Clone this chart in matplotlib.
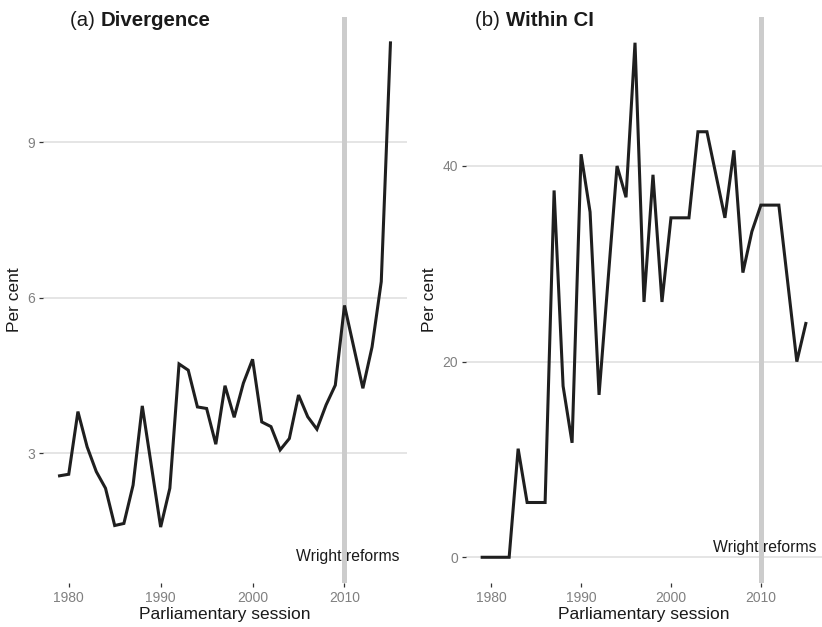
import matplotlib
matplotlib.use('Agg')
import matplotlib.pyplot as plt

years = list(range(1979, 2016))
divergence = [2.56, 2.59, 3.80, 3.12, 2.64, 2.32, 1.60, 1.64, 2.38, 3.91,
              2.74, 1.57, 2.32, 4.72, 4.60, 3.89, 3.86, 3.17, 4.30, 3.69,
              4.35, 4.81, 3.60, 3.51, 3.06, 3.28, 4.12, 3.70, 3.46, 3.93,
              4.31, 5.85, 5.05, 4.25, 5.05, 6.31, 10.92]
within_ci = [0, 0, 0, 0, 11.1, 5.6, 5.6, 5.6, 37.5, 17.5,
             11.7, 41.2, 35.3, 16.6, 28.3, 40.0, 36.8, 52.6, 26.1, 39.1,
             26.1, 34.7, 34.7, 34.7, 43.5, 43.5, 39.1, 34.7, 41.6, 29.1,
             33.3, 36.0, 36.0, 36.0, 28.0, 20.0, 23.9]
x_ticks = [1980, 1990, 2000, 2010]
left_yticks = [3, 6, 9]
right_yticks = [0, 20, 40]
reform_year = 2010
reform_label = "Wright reforms"

plt.rcParams['font.family'] = ['Liberation Sans', 'DejaVu Sans']

W, H = 822, 627
fig = plt.figure(figsize=(W / 100, H / 100), dpi=100)

def px_axes(x0, x1, y0, y1):
    return fig.add_axes([x0 / W, 1 - y1 / H, (x1 - x0) / W, (y1 - y0) / H])

axL = px_axes(43, 407, 17, 583)
axR = px_axes(466, 822, 17, 583)

panels = [
    (axL, divergence, left_yticks, (0.49, 11.42), "(a) ", "Divergence", 70),
    (axR, within_ci, right_yticks, (-2.63, 55.23), "(b) ", "Within CI", 475),
]

for ax, vals, yt, ylim, pre, title, tx in panels:
    for s in ax.spines.values():
        s.set_visible(False)
    ax.set_xlim(1977.2, 2016.8)
    ax.set_ylim(*ylim)
    ax.set_xticks(x_ticks)
    ax.set_yticks(yt)
    ax.grid(axis='y', color='#DEDEDE', lw=1.1)
    ax.grid(axis='x', visible=False)
    ax.set_axisbelow(True)
    ax.tick_params(axis='both', colors='#333333', labelcolor='#808080',
                   length=3, width=0.9, labelsize=10.0, pad=2.5)
    ax.axvline(reform_year, color='#CCCCCC', lw=3.6, zorder=1)
    ax.plot(years, vals, color='#1F1F1F', lw=2.2, zorder=3,
            solid_joinstyle='miter')
    ax.text(reform_year + 0.4, 1, reform_label, ha='center', va='center',
            fontsize=11.3, color='#1A1A1A', zorder=4)
    ax.set_xlabel("Parliamentary session", fontsize=12.5, color='#1A1A1A',
                  labelpad=2)
    ax.set_ylabel("Per cent", fontsize=12.5, color='#1A1A1A', labelpad=4)
    t1 = fig.text(tx / W, 1 - 26 / H, pre, fontsize=14.7, color='#1A1A1A',
                  ha='left', va='baseline')
    fig.canvas.draw()
    bb = t1.get_window_extent()
    fig.text(bb.x1 / W, 1 - 26 / H, title, fontsize=14.7, fontweight='bold',
             color='#1A1A1A', ha='left', va='baseline')

fig.savefig('out.png', dpi=100)
